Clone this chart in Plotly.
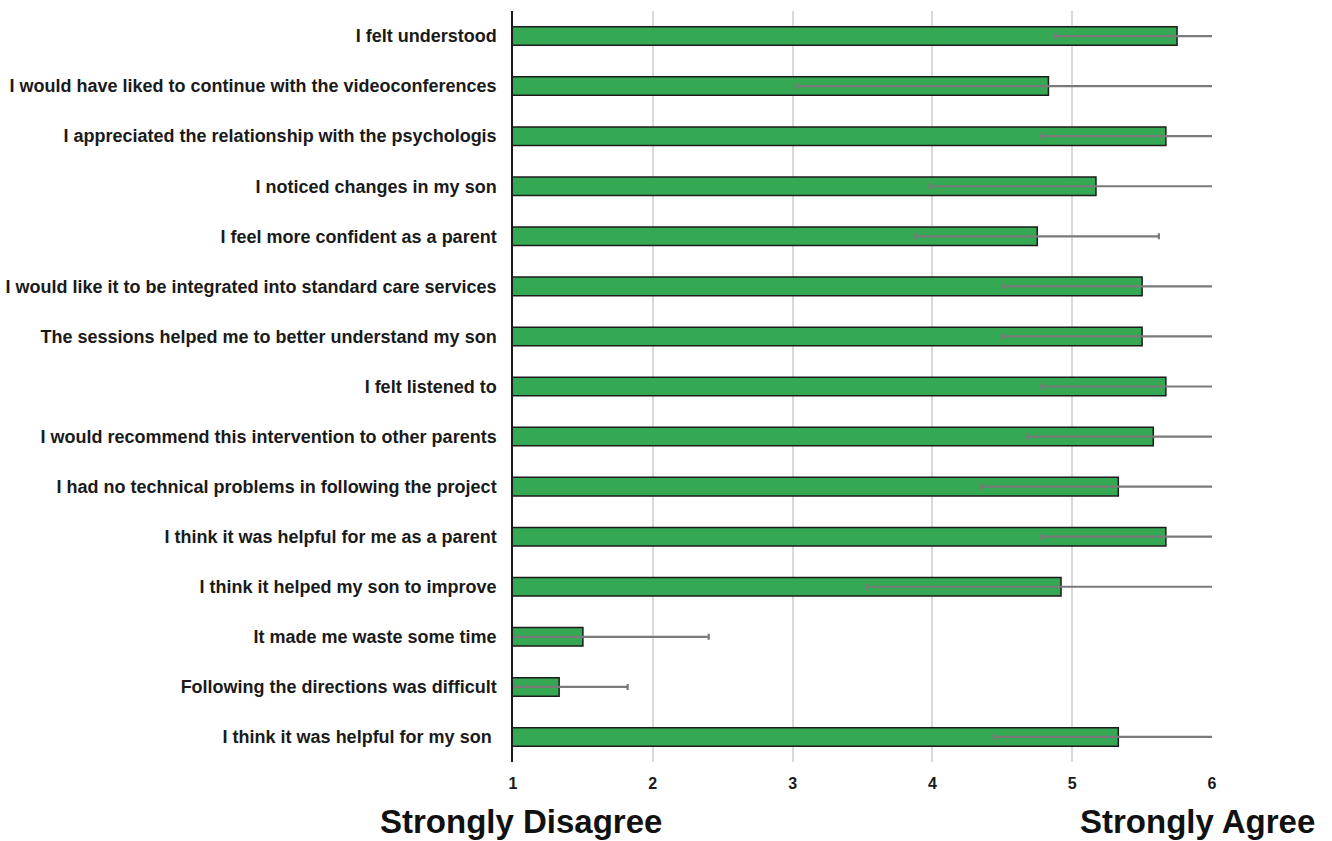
import plotly.graph_objects as go

# Survey statements (top to bottom), mean agreement score and standard deviation
statements = [
    "I felt understood",
    "I would have liked to continue with the videoconferences",
    "I appreciated the relationship with the psychologis",
    "I noticed changes in my son",
    "I feel more confident as a parent",
    "I would like it to be integrated into standard care services",
    "The sessions helped me to better understand my son",
    "I felt listened to",
    "I would recommend this intervention to other parents",
    "I had no technical problems in following the project",
    "I think it was helpful for me as a parent",
    "I think it helped my son to improve",
    "It made me waste some time",
    "Following the directions was difficult",
    "I think it was helpful for my son\u00a0",
]
means = [5.75, 4.83, 5.67, 5.17, 4.75, 5.50, 5.50, 5.67, 5.58, 5.33, 5.67, 4.92, 1.50, 1.33, 5.33]
sds = [0.87, 1.80, 0.89, 1.19, 0.87, 1.00, 1.00, 0.89, 0.90, 0.98, 0.89, 1.39, 0.90, 0.49, 0.89]
scale_ticks = [1, 2, 3, 4, 5, 6]

FONT = "Arial, 'Liberation Sans', sans-serif"
W, H = 1332, 841
L, R, T, B = 513, 120, 11, 79

fig = go.Figure(
    go.Bar(
        x=means,
        y=statements,
        orientation="h",
        width=0.37,
        marker=dict(color="#35a853", line=dict(color="#1c1c1c", width=1.5)),
        error_x=dict(type="data", array=sds, symmetric=True,
                     color="#7a7a7a", thickness=2.2, width=3),
    )
)

fig.update_layout(
    width=W, height=H,
    margin=dict(l=L, r=R, t=T, b=B, autoexpand=False),
    paper_bgcolor="white", plot_bgcolor="white",
    showlegend=False,
    font=dict(family=FONT, color="#1a1a1a"),
    bargap=0.63,
)

fig.update_xaxes(
    range=[1, 6], tickvals=scale_ticks, ticktext=[str(t) for t in scale_ticks],
    showgrid=True, gridcolor="#d9d9d9", gridwidth=1.5,
    zeroline=False, showline=False, ticks="",
    tickfont=dict(family=FONT, size=16, weight="bold", color="#1a1a1a"),
    ticklabelstandoff=10, automargin=False,
)
fig.update_yaxes(
    autorange="reversed",
    showgrid=False, zeroline=False,
    showline=True, linecolor="#1a1a1a", linewidth=1.5,
    ticks="",
    tickfont=dict(family=FONT, size=18, weight="bold", color="#1a1a1a"),
    ticklabelstandoff=11, automargin=False,
)

plot_w = W - L - R
plot_h = H - T - B


def px_x(x):
    return (x - L) / plot_w


def px_y(y):
    return (H - B - y) / plot_h


fig.add_annotation(
    text="Strongly Disagree", xref="paper", yref="paper",
    x=px_x(378), y=px_y(821), xanchor="left", yanchor="middle",
    showarrow=False, font=dict(family=FONT, size=33, weight="bold", color="#111111"),
)
fig.add_annotation(
    text="Strongly Agree", xref="paper", yref="paper",
    x=px_x(1317), y=px_y(821), xanchor="right", yanchor="middle",
    showarrow=False, font=dict(family=FONT, size=33, weight="bold", color="#111111"),
)

fig.write_html("out.html")
